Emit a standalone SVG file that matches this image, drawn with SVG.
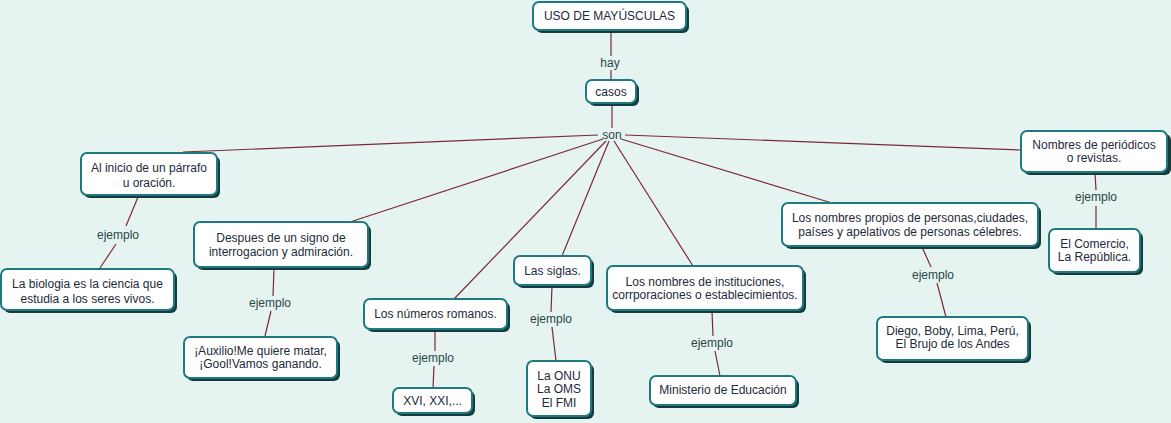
<svg xmlns="http://www.w3.org/2000/svg" width="1171" height="423" viewBox="0 0 1171 423">
<style>
.sh{fill:#163c3e}
.bx{fill:#ffffff;stroke:#1e7a80;stroke-width:2}
.t{font-family:"Liberation Sans",Arial,sans-serif;font-size:12px;fill:#1d2a38;text-anchor:middle}
.l{font-family:"Liberation Sans",Arial,sans-serif;font-size:12px;fill:#2a4646;text-anchor:middle}
.c line{stroke:#7a2838;stroke-width:1.2}
</style>
<rect width="1171" height="423" fill="#e6f4f1"/>
<g class="c" id="connectors">
<line x1="611" y1="30" x2="611" y2="56"/>
<line x1="611" y1="70" x2="611" y2="80"/>
<line x1="612" y1="103" x2="612" y2="128"/>
<line x1="598" y1="135" x2="183" y2="152"/>
<line x1="603" y1="139" x2="350" y2="222"/>
<line x1="606" y1="141" x2="454" y2="299"/>
<line x1="609" y1="141" x2="562" y2="256"/>
<line x1="614" y1="141" x2="693" y2="266"/>
<line x1="621" y1="139" x2="832" y2="203"/>
<line x1="625" y1="135" x2="1021" y2="150"/>
<line x1="138" y1="197" x2="126" y2="226"/>
<line x1="116" y1="244" x2="100" y2="268"/>
<line x1="274" y1="268" x2="273" y2="296"/>
<line x1="271" y1="311" x2="265" y2="336"/>
<line x1="435" y1="330" x2="435" y2="351"/>
<line x1="434" y1="366" x2="433" y2="388"/>
<line x1="552" y1="286" x2="551" y2="312"/>
<line x1="552" y1="327" x2="556" y2="361"/>
<line x1="712" y1="311" x2="713" y2="336"/>
<line x1="715" y1="351" x2="720" y2="376"/>
<line x1="922" y1="247" x2="931" y2="267"/>
<line x1="937" y1="283" x2="946" y2="317"/>
<line x1="1095" y1="173" x2="1096" y2="190"/>
<line x1="1096" y1="206" x2="1096" y2="229"/>
</g>
<g id="labels">
<text class="l" x="610" y="67">hay</text>
<text class="l" x="612" y="139">son</text>
<text class="l" x="118" y="239">ejemplo</text>
<text class="l" x="270" y="307">ejemplo</text>
<text class="l" x="433" y="362">ejemplo</text>
<text class="l" x="551" y="323">ejemplo</text>
<text class="l" x="712" y="347">ejemplo</text>
<text class="l" x="933" y="279">ejemplo</text>
<text class="l" x="1096" y="201">ejemplo</text>
</g>
<g id="n-title"><rect class="sh" x="536" y="5" width="153" height="28" rx="6"/><rect class="bx" x="533" y="2" width="153" height="28" rx="6"/><text class="t" x="609.5" y="20">USO DE MAYÚSCULAS</text></g>
<g id="n-casos"><rect class="sh" x="589" y="83" width="50" height="23" rx="6"/><rect class="bx" x="586" y="80" width="50" height="23" rx="6"/><text class="t" x="611" y="96">casos</text></g>
<g id="n-inicio"><rect class="sh" x="84" y="156" width="136" height="42" rx="6"/><rect class="bx" x="81" y="153" width="136" height="42" rx="6"/><text class="t" x="149" y="172">Al inicio de un párrafo</text><text class="t" x="149" y="187">u oración.</text></g>
<g id="n-biologia"><rect class="sh" x="4" y="272" width="173" height="41" rx="6"/><rect class="bx" x="1" y="269" width="173" height="41" rx="6"/><text class="t" x="87.5" y="288">La biologia es la ciencia que</text><text class="t" x="87.5" y="303">estudia a los seres vivos.</text></g>
<g id="n-despues"><rect class="sh" x="197" y="225" width="174" height="45" rx="6"/><rect class="bx" x="194" y="222" width="174" height="45" rx="6"/><text class="t" x="281" y="242">Despues de un signo de</text><text class="t" x="281" y="256">interrogacion y admiración.</text></g>
<g id="n-auxilio"><rect class="sh" x="187" y="340" width="153" height="41" rx="6"/><rect class="bx" x="184" y="337" width="153" height="41" rx="6"/><text class="t" x="260.5" y="355">¡Auxilio!Me quiere matar,</text><text class="t" x="260.5" y="368">¡Gool!Vamos ganando.</text></g>
<g id="n-romanos"><rect class="sh" x="367" y="302" width="143" height="30" rx="6"/><rect class="bx" x="364" y="299" width="143" height="30" rx="6"/><text class="t" x="435.5" y="318">Los números romanos.</text></g>
<g id="n-xvi"><rect class="sh" x="396" y="391" width="79" height="25" rx="6"/><rect class="bx" x="393" y="388" width="79" height="25" rx="6"/><text class="t" x="432.5" y="405">XVI, XXI,...</text></g>
<g id="n-siglas"><rect class="sh" x="517" y="259" width="77" height="29" rx="6"/><rect class="bx" x="514" y="256" width="77" height="29" rx="6"/><text class="t" x="552.5" y="275">Las siglas.</text></g>
<g id="n-onu"><rect class="sh" x="530" y="364" width="64" height="55" rx="6"/><rect class="bx" x="527" y="361" width="64" height="55" rx="6"/><text class="t" x="559" y="380">La ONU</text><text class="t" x="559" y="393">La OMS</text><text class="t" x="559" y="407">El FMI</text></g>
<g id="n-instituciones"><rect class="sh" x="610" y="269" width="196" height="44" rx="6"/><rect class="bx" x="607" y="266" width="196" height="44" rx="6"/><text class="t" x="705" y="286">Los nombres de instituciones,</text><text class="t" x="705" y="299">corrporaciones o establecimientos.</text></g>
<g id="n-ministerio"><rect class="sh" x="653" y="379" width="146" height="29" rx="6"/><rect class="bx" x="650" y="376" width="146" height="29" rx="6"/><text class="t" x="723" y="394">Ministerio de Educación</text></g>
<g id="n-propios"><rect class="sh" x="785" y="206" width="256" height="43" rx="6"/><rect class="bx" x="782" y="203" width="256" height="43" rx="6"/><text class="t" x="910" y="222">Los nombres propios de personas,ciudades,</text><text class="t" x="910" y="236">países y apelativos de personas célebres.</text></g>
<g id="n-diego"><rect class="sh" x="880" y="320" width="151" height="43" rx="6"/><rect class="bx" x="877" y="317" width="151" height="43" rx="6"/><text class="t" x="952.5" y="335">Diego, Boby, Lima, Perú,</text><text class="t" x="952.5" y="348">El Brujo de los Andes</text></g>
<g id="n-periodicos"><rect class="sh" x="1024" y="134" width="147" height="41" rx="6"/><rect class="bx" x="1021" y="131" width="146" height="41" rx="6"/><text class="t" x="1094" y="149">Nombres de periódicos</text><text class="t" x="1094" y="162">o revistas.</text></g>
<g id="n-comercio"><rect class="sh" x="1052" y="232" width="91" height="43" rx="6"/><rect class="bx" x="1049" y="229" width="91" height="43" rx="6"/><text class="t" x="1094.5" y="248">El Comercio,</text><text class="t" x="1094.5" y="261">La República.</text></g>
</svg>
